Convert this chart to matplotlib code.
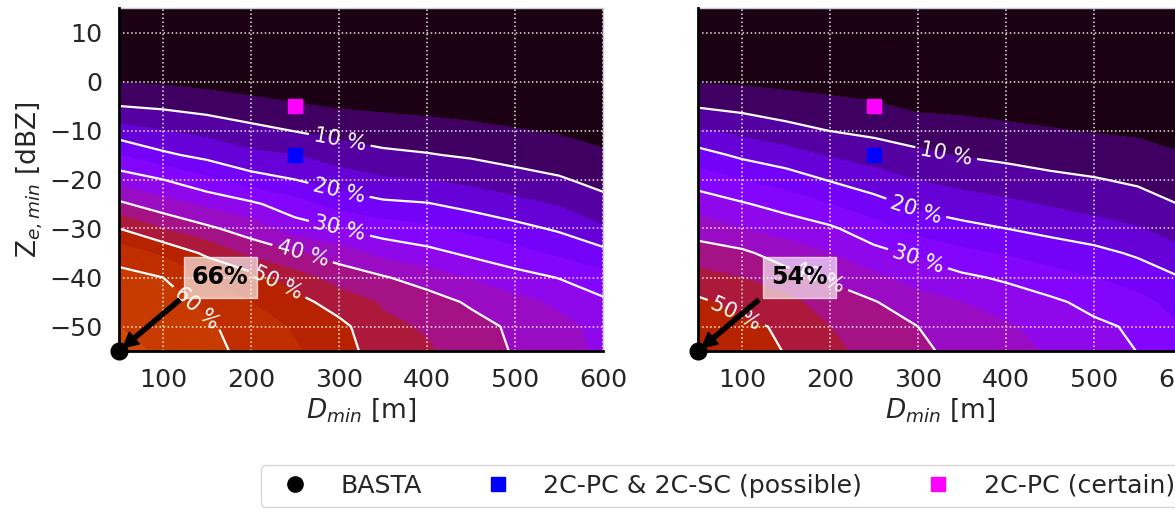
import numpy as np
import matplotlib
matplotlib.use('Agg')
import matplotlib.pyplot as plt
from matplotlib.lines import Line2D

# grid of the sweep
d_min = [50, 100, 150, 200, 250, 300, 350, 400, 450, 500, 550, 600]
ze_min = [-55, -50, -45, -40, -35, -30, -25, -20, -15, -10, -5, 0, 5, 10, 15]

# detection fraction [%], rows = ze_min, cols = d_min  (left panel)
frac_a = [
    [66, 64.5, 62, 58, 55.5, 52.5, 47, 45.5, 43, 39.5, 37, 34],
    [65, 63.5, 61, 57, 54.5, 51.5, 46, 44.5, 42, 39, 36.5, 33.5],
    [63.5, 62.5, 58.5, 55, 52, 47.5, 44.5, 42.5, 39.2, 36.5, 34, 31],
    [61.5, 60, 55, 52, 47, 43, 40.5, 37.5, 34.5, 32, 29.8, 26.5],
    [58, 54, 49, 43.5, 40.5, 37.5, 33.5, 31.5, 29, 26.5, 24, 21.5],
    [50, 45, 41, 37.5, 32.5, 30, 27.5, 26, 23.5, 21.5, 19.3, 15.5],
    [41, 37, 34, 31, 27, 23, 21, 20.3, 18.5, 16.5, 14.5, 11.5],
    [33, 30, 26, 22, 20, 17.5, 15.5, 15, 13.5, 11.8, 10.5, 8.5],
    [25, 21, 18.5, 16, 15, 12.5, 11, 10.3, 9.4, 8.3, 7.3, 5.6],
    [17, 15, 13.5, 11.5, 9.8, 8.5, 7.5, 7, 6.2, 5.3, 4.5, 3.5],
    [10, 9.2, 8, 6.5, 5.5, 4.5, 4, 3.5, 3, 2.5, 2, 1.5],
    [4.8, 4.3, 3.5, 2.8, 2, 1.5, 1.2, 1, 0.8, 0.6, 0.4, 0.2],
    [0.5, 0.3, 0.2, 0.1, 0, 0, 0, 0, 0, 0, 0, 0],
    [0, 0, 0, 0, 0, 0, 0, 0, 0, 0, 0, 0],
    [0, 0, 0, 0, 0, 0, 0, 0, 0, 0, 0, 0],
]

# right panel
frac_b = [
    [54, 52, 49.8, 46, 43.5, 41, 38.5, 36.5, 34.5, 32, 29.9, 26],
    [53, 51, 49.3, 45, 42.5, 40, 37.5, 35.5, 33.5, 31, 29.2, 25],
    [51, 48.2, 46.5, 42.5, 40.3, 37, 35, 33, 31, 28.5, 26.3, 23],
    [46.5, 45, 42, 39.3, 36, 33, 31, 29.2, 26.8, 25, 23, 20],
    [42.5, 41, 37.5, 35, 31.5, 29, 26, 24.5, 22.8, 21.5, 19.2, 16],
    [37.5, 35, 33, 30.8, 27, 23, 21.5, 20, 18.5, 16.8, 15.3, 12.5],
    [33, 30.5, 28, 25, 22, 18.8, 17, 16, 14.5, 13.2, 12, 9.8],
    [27.5, 25, 22.5, 19.6, 17, 14.8, 13.5, 12, 11, 10.3, 9.2, 7.5],
    [22, 19, 17, 14.5, 12.8, 11, 9.7, 9, 8.2, 7.3, 6.5, 5.2],
    [15.5, 13.5, 11.5, 9.9, 8.8, 7.6, 6.8, 6, 5.3, 4.7, 4.3, 3.3],
    [9.6, 8.6, 7.5, 6.5, 5.6, 4.0, 3.8, 3.3, 2.8, 2.3, 2, 1.5],
    [4.7, 4.2, 3.6, 3, 2.5, 2, 1.6, 1.2, 0.9, 0.7, 0.5, 0.3],
    [0.4, 0.3, 0.2, 0.1, 0, 0, 0, 0, 0, 0, 0, 0],
    [0, 0, 0, 0, 0, 0, 0, 0, 0, 0, 0, 0],
    [0, 0, 0, 0, 0, 0, 0, 0, 0, 0, 0, 0],
]

basta_pt = (50, -55)
possible_pt = (250, -15)
certain_pt = (250, -5)
basta_txt = ['66%', '54%']

label_pos_a = [(301, -11.8), (301, -21.4), (301, -29.6), (261, -33.7), (233, -40.2), (142, -45.5)]
label_pos_b = [(332, -14.7), (299, -25.5), (299, -36.7), (188, -40), (99, -45.5)]

fill_levels = np.arange(0, 105, 5)
line_levels = [10, 20, 30, 40, 50, 60]
band_colors = [plt.cm.gnuplot((lv + 1.25) / 100.) for lv in fill_levels[:-1]]

FS = 18.2

fig = plt.figure(figsize=(11.75, 5.09), dpi=100)
W, H = 1175., 509.
ax1 = fig.add_axes([119 / W, 1 - 351 / H, 484 / W, 343 / H])
ax2 = fig.add_axes([698 / W, 1 - 351 / H, 484 / W, 343 / H])

for ax, frac, lpos, txt, ylab in [(ax1, frac_a, label_pos_a, basta_txt[0], True),
                                  (ax2, frac_b, label_pos_b, basta_txt[1], False)]:
    Z = np.array(frac)
    ax.contourf(d_min, ze_min, Z, levels=fill_levels, colors=band_colors)
    cs = ax.contour(d_min, ze_min, Z, levels=line_levels, colors='white', linewidths=1.6)
    ax.clabel(cs, manual=lpos, fmt='%d %%', inline=True, fontsize=15, colors='white')

    ax.plot(*possible_pt, 's', color='blue', ms=9.5, zorder=4)
    ax.plot(*certain_pt, 's', color='magenta', ms=9.5, zorder=4)
    ax.plot(*basta_pt, 'o', color='black', ms=12, clip_on=False, zorder=6)

    ax.annotate(txt, xy=basta_pt, xytext=(165, -40), ha='center', va='center',
                fontsize=17, fontweight='bold', zorder=7,
                bbox=dict(boxstyle='square,pad=0.35', fc='white', ec='white', alpha=0.65),
                arrowprops=dict(facecolor='black', edgecolor='black', shrink=0.05,
                                width=3, headwidth=11, headlength=11))

    ax.set_xlim(50, 600)
    ax.set_ylim(-55, 15)
    ax.set_xticks([100, 200, 300, 400, 500, 600])
    ax.set_yticks([-50, -40, -30, -20, -10, 0, 10])
    ax.set_axisbelow(False)
    ax.grid(color='white', linestyle=':', linewidth=1.1, alpha=0.9)
    ax.tick_params(length=0, labelsize=FS, pad=12, labelcolor='#262626')
    for s in ['left', 'bottom']:
        ax.spines[s].set_color('black')
        ax.spines[s].set_linewidth(2)
        ax.spines[s].set_zorder(5)
    for s in ['top', 'right']:
        ax.spines[s].set_color('#cccccc')
        ax.spines[s].set_linewidth(1)
    ax.set_xlabel('$D_{min}$ [m]', fontsize=19, color='#262626', labelpad=3)
    if ylab:
        ax.set_ylabel('Z$_{e,min}$ [dBZ]', fontsize=19, color='#262626', labelpad=3)
    else:
        ax.set_yticklabels([])

handles = [Line2D([], [], marker='o', ls='', color='black', ms=11),
           Line2D([], [], marker='s', ls='', color='blue', ms=10),
           Line2D([], [], marker='s', ls='', color='magenta', ms=10)]
labels = ['BASTA', '2C-PC & 2C-SC (possible)', '2C-PC (certain)']
leg = fig.legend(handles, labels, loc='upper left', bbox_to_anchor=(261 / W, 1 - 465 / H),
                 ncol=3, fontsize=FS, frameon=True, borderaxespad=0, columnspacing=2.0,
                 handletextpad=0.8, borderpad=0.35, labelcolor='#262626')
leg.get_frame().set_edgecolor('#cccccc')

fig.savefig('out.png', dpi=100)
